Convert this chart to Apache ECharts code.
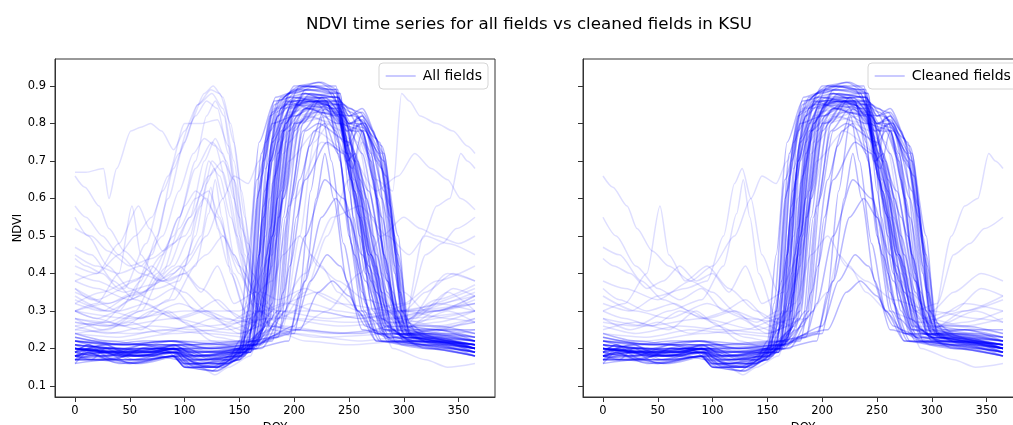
<!DOCTYPE html>
<html>
<head>
<meta charset="utf-8">
<script src="https://cdn.jsdelivr.net/npm/echarts@6/dist/echarts.min.js"></script>
<style>
  html, body { margin: 0; padding: 0; background: #ffffff; }
  #chart { width: 1013px; height: 425px; }
</style>
</head>
<body>
<div id="chart"></div>
<script>
// NDVI profiles per field, stored as [day of year, NDVI] pairs.
const titleText = 'NDVI time series for all fields vs cleaned fields in KSU';
const doyTicks = [0, 50, 100, 150, 200, 250, 300, 350];
const ndviTicks = [0.1, 0.2, 0.3, 0.4, 0.5, 0.6, 0.7, 0.8, 0.9];

// Typical summer crops (kept after cleaning)
const summerCrops = [
  [[0,.19],[12,.21],[30,.18],[60,.18],[90,.2],[105,.17],[130,.16],[150,.2],[158,.3],[168,.62],[180,.83],[195,.88],[215,.9],[238,.88],[248,.72],[260,.5],[272,.3],[285,.22],[320,.21],[365,.19]],
  [[0,.18],[15,.17],[28,.2],[50,.17],[90,.19],[100,.16],[125,.15],[145,.18],[160,.25],[172,.55],[185,.82],[200,.9],[225,.91],[240,.89],[248,.73],[258,.56],[270,.33],[285,.23],[320,.22],[365,.2]],
  [[0,.21],[20,.19],[45,.18],[62,.2],[90,.2],[110,.18],[140,.19],[162,.22],[172,.4],[185,.75],[198,.86],[220,.87],[240,.86],[252,.8],[262,.82],[275,.7],[290,.35],[300,.24],[330,.25],[365,.23]],
  [[0,.17],[25,.17],[60,.17],[90,.18],[100,.15],[128,.15],[150,.17],[168,.22],[178,.45],[190,.78],[205,.86],[230,.85],[248,.78],[262,.8],[280,.68],[292,.42],[300,.25],[320,.22],[365,.2]],
  [[0,.22],[30,.2],[60,.19],[95,.21],[120,.18],[150,.2],[172,.25],[182,.5],[195,.78],[210,.84],[225,.86],[240,.83],[252,.65],[265,.4],[280,.24],[310,.22],[365,.21]],
  [[0,.16],[12,.19],[40,.16],[70,.17],[90,.18],[110,.15],[135,.16],[155,.2],[163,.35],[172,.7],[185,.86],[205,.9],[238,.9],[246,.78],[254,.55],[265,.32],[280,.22],[330,.21],[365,.18]],
  [[0,.24],[30,.22],[65,.21],[90,.22],[120,.2],[160,.21],[180,.28],[190,.55],[200,.78],[215,.84],[240,.8],[265,.78],[280,.6],[295,.3],[305,.24],[340,.24],[365,.23]],
  [[0,.19],[28,.21],[50,.18],[88,.2],[100,.17],[130,.17],[155,.19],[166,.3],[176,.65],[188,.84],[200,.87],[230,.85],[245,.75],[250,.7],[258,.8],[268,.72],[282,.45],[295,.25],[320,.22],[365,.21]],
  [[0,.2],[40,.19],[80,.2],[110,.19],[150,.2],[180,.22],[190,.35],[205,.65],[218,.78],[228,.8],[240,.72],[255,.45],[270,.28],[290,.22],[365,.2]],
  [[0,.18],[50,.17],[100,.18],[150,.19],[195,.22],[205,.35],[215,.62],[226,.82],[234,.7],[245,.48],[258,.3],[275,.22],[365,.19]],
  [[0,.2],[60,.19],[100,.2],[150,.2],[200,.24],[210,.38],[220,.6],[228,.72],[236,.6],[248,.38],[262,.25],[300,.22],[365,.21]],
  [[0,.23],[40,.21],[90,.22],[140,.21],[185,.23],[195,.32],[210,.5],[228,.65],[245,.6],[262,.45],[280,.28],[300,.23],[365,.22]],
  [[0,.18],[30,.18],[62,.21],[90,.19],[115,.17],[150,.18],[170,.24],[180,.5],[192,.8],[210,.88],[240,.87],[250,.82],[262,.83],[278,.75],[292,.5],[302,.26],[320,.23],[365,.2]],
  [[0,.17],[20,.18],[55,.16],[90,.18],[105,.15],[130,.15],[148,.18],[158,.28],[166,.6],[178,.82],[195,.87],[230,.86],[242,.7],[252,.48],[264,.3],[278,.22],[330,.2],[365,.18]],
  [[0,.2],[35,.19],[70,.18],[95,.2],[125,.17],[155,.19],[176,.25],[186,.55],[198,.82],[210,.89],[235,.88],[248,.78],[260,.65],[272,.55],[285,.35],[300,.24],[365,.21]],
  [[0,.19],[25,.18],[60,.19],[90,.2],[110,.17],[140,.17],[160,.2],[168,.35],[178,.7],[190,.84],[215,.86],[240,.85],[252,.83],[265,.8],[282,.62],[296,.35],[305,.24],[340,.22],[365,.2]],
  [[0,.21],[40,.2],[80,.19],[120,.18],[160,.2],[182,.26],[192,.55],[205,.8],[220,.86],[238,.83],[252,.7],[268,.45],[285,.26],[300,.23],[365,.2]],
  [[0,.17],[20,.17],[50,.16],[90,.18],[100,.15],[125,.14],[140,.17],[150,.22],[158,.45],[168,.75],[182,.86],[210,.88],[230,.86],[240,.75],[250,.5],[262,.3],[275,.22],[320,.2],[365,.18]],
  [[0,.18],[12,.2],[40,.18],[75,.18],[92,.19],[115,.16],[145,.18],[165,.22],[175,.45],[188,.8],[205,.9],[238,.89],[248,.72],[260,.62],[275,.45],[290,.25],[310,.21],[365,.19]],
  [[0,.22],[50,.21],[90,.21],[130,.19],[165,.21],[180,.32],[190,.6],[202,.8],[220,.83],[255,.82],[275,.76],[288,.55],[298,.3],[310,.25],[365,.25]],
  [[0,.2],[60,.19],[110,.19],[160,.2],[186,.24],[196,.42],[210,.65],[230,.75],[245,.72],[260,.55],[275,.35],[290,.23],[365,.21]],
  [[0,.21],[50,.2],[100,.2],[160,.21],[195,.24],[210,.38],[225,.55],[238,.6],[250,.55],[265,.38],[282,.25],[365,.22]],
  [[0,.19],[30,.2],[62,.18],[90,.2],[110,.17],[140,.18],[158,.21],[168,.45],[180,.75],[198,.85],[240,.84],[252,.78],[262,.78],[276,.6],[290,.32],[300,.23],[365,.2]],
  [[0,.18],[28,.2],[55,.17],[88,.19],[100,.16],[132,.16],[160,.19],[170,.32],[180,.7],[195,.88],[215,.89],[240,.88],[248,.74],[258,.82],[270,.72],[285,.4],[295,.24],[330,.22],[365,.19]],
  [[0,.2],[40,.19],[75,.2],[100,.18],[130,.18],[165,.2],[174,.35],[185,.72],[200,.86],[235,.87],[250,.8],[262,.81],[280,.72],[295,.45],[305,.26],[330,.26],[365,.24]],
  [[0,.17],[30,.17],[60,.16],[95,.18],[120,.15],[150,.17],[168,.24],[178,.52],[190,.78],[210,.84],[240,.82],[255,.7],[270,.45],[285,.25],[320,.2],[365,.18]],
  [[0,.23],[45,.21],[85,.22],[120,.2],[170,.21],[188,.3],[198,.6],[210,.78],[222,.8],[250,.75],[268,.62],[285,.38],[300,.24],[365,.22]],
  [[0,.18],[12,.19],[30,.17],[62,.19],[90,.2],[102,.16],[130,.15],[152,.19],[163,.38],[174,.75],[188,.87],[210,.9],[238,.89],[247,.7],[253,.68],[262,.78],[272,.65],[285,.38],[298,.23],[340,.21],[365,.19]],
  [[0,.2],[25,.19],[60,.2],[95,.2],[125,.18],[160,.2],[180,.3],[190,.62],[202,.82],[220,.86],[245,.85],[262,.78],[280,.55],[295,.3],[305,.23],[365,.21]],
  [[0,.22],[60,.21],[120,.21],[170,.22],[200,.26],[215,.38],[230,.45],[242,.42],[258,.3],[275,.24],[365,.22]],
  [[0,.2],[50,.19],[100,.21],[160,.22],[205,.25],[222,.35],[235,.38],[250,.34],[265,.26],[290,.22],[365,.21]],
  [[0,.18],[30,.19],[60,.18],[90,.19],[105,.16],[140,.16],[150,.2],[156,.32],[166,.65],[180,.8],[200,.82],[222,.85],[238,.78],[250,.55],[262,.35],[275,.24],[320,.21],[365,.19]],
  [[0,.19],[28,.21],[55,.18],[90,.2],[115,.17],[150,.18],[170,.23],[180,.5],[192,.8],[208,.88],[240,.87],[250,.82],[262,.84],[282,.72],[293,.45],[301,.25],[330,.23],[365,.2]],
  [[0,.21],[40,.2],[80,.2],[120,.19],[165,.2],[186,.28],[196,.58],[208,.8],[225,.87],[240,.82],[252,.65],[268,.4],[282,.25],[310,.22],[365,.2]],
  [[0,.18],[20,.17],[50,.18],[92,.19],[110,.16],[140,.16],[160,.19],[168,.32],[178,.7],[192,.85],[220,.86],[245,.83],[256,.7],[270,.45],[290,.24],[330,.22],[365,.2]],
  [[0,.2],[30,.19],[62,.21],[90,.2],[120,.18],[160,.19],[178,.28],[188,.62],[200,.84],[215,.88],[240,.87],[250,.8],[260,.8],[278,.72],[292,.48],[300,.26],[330,.25],[365,.22]],
  [[0,.17],[14,.2],[35,.17],[62,.2],[85,.19],[98,.16],[128,.14],[148,.17],[160,.28],[170,.66],[182,.85],[200,.89],[222,.91],[242,.88],[248,.7],[256,.72],[266,.6],[280,.35],[292,.22],[340,.2],[365,.19]],
  [[0,.2],[28,.18],[55,.19],[90,.21],[110,.18],[140,.17],[162,.2],[170,.42],[180,.76],[195,.86],[218,.85],[240,.86],[252,.84],[264,.8],[284,.66],[297,.35],[306,.23],[330,.22],[365,.2]],
  [[0,.19],[20,.18],[48,.19],[75,.18],[95,.17],[118,.16],[155,.18],[165,.3],[174,.68],[186,.84],[205,.87],[235,.88],[245,.8],[252,.78],[262,.8],[278,.7],[292,.4],[300,.24],[335,.22],[365,.21]],
  [[0,.16],[30,.17],[60,.17],[90,.18],[100,.15],[130,.14],[152,.18],[160,.35],[170,.72],[183,.87],[205,.89],[230,.89],[242,.84],[250,.62],[260,.4],[272,.25],[300,.21],[365,.18]],
  [[0,.21],[40,.2],[70,.19],[95,.2],[125,.19],[160,.19],[172,.3],[182,.66],[196,.84],[215,.86],[238,.86],[250,.8],[262,.82],[280,.74],[295,.5],[303,.27],[320,.24],[365,.22]],
  [[0,.18],[25,.19],[60,.18],[92,.2],[105,.16],[135,.15],[158,.19],[168,.45],[178,.78],[192,.86],[215,.84],[238,.85],[247,.76],[255,.62],[268,.42],[282,.26],[310,.22],[365,.2]],
  [[0,.2],[35,.2],[70,.19],[90,.21],[110,.18],[150,.19],[175,.26],[185,.6],[196,.82],[212,.87],[238,.87],[250,.84],[260,.83],[272,.78],[288,.58],[298,.3],[308,.23],[365,.21]],
  [[0,.19],[12,.21],[40,.18],[65,.19],[95,.19],[120,.17],[150,.19],[164,.3],[173,.62],[185,.82],[200,.86],[228,.87],[245,.82],[258,.7],[272,.5],[288,.28],[300,.22],[365,.2]],
  [[0,.22],[30,.21],[62,.22],[90,.22],[125,.2],[165,.21],[185,.3],[195,.58],[208,.78],[225,.84],[245,.82],[262,.72],[278,.5],[292,.28],[305,.24],[365,.23]],
  [[0,.17],[28,.19],[50,.16],[88,.18],[102,.15],[128,.15],[150,.17],[163,.26],[172,.58],[184,.83],[200,.88],[220,.9],[242,.88],[249,.74],[258,.78],[270,.7],[283,.44],[296,.24],[330,.21],[365,.19]],
  [[0,.2],[40,.19],[80,.21],[120,.19],[170,.2],[192,.3],[202,.55],[214,.74],[228,.84],[242,.8],[255,.62],[270,.38],[285,.24],[365,.21]],
  [[0,.18],[20,.19],[55,.18],[90,.19],[112,.16],[145,.17],[168,.22],[177,.48],[188,.78],[205,.86],[232,.86],[248,.8],[262,.79],[282,.7],[296,.42],[304,.25],[340,.22],[365,.2]]
];

// Fields with noisier off-season signal (kept after cleaning)
const mixedFields = [
  [[0,.44],[10,.42],[25,.4],[40,.36],[55,.38],[70,.42],[85,.38],[100,.4],[115,.35],[130,.42],[145,.32],[165,.35],[178,.6],[192,.82],[220,.86],[245,.8],[262,.62],[282,.3],[300,.25],[330,.3],[365,.33]],
  [[0,.55],[12,.5],[30,.42],[50,.36],[70,.33],[90,.36],[110,.3],[130,.33],[150,.28],[170,.3],[185,.6],[200,.82],[235,.84],[255,.7],[275,.4],[295,.26],[330,.24],[365,.22]],
  [[0,.66],[9,.63],[22,.58],[31,.52],[45,.46],[60,.42],[80,.38],[100,.35],[120,.3],[140,.28],[160,.25],[175,.4],[190,.78],[210,.86],[240,.85],[258,.75],[280,.4],[300,.25],[365,.23]],
  [[0,.3],[20,.32],[40,.4],[52,.58],[60,.45],[75,.38],[95,.42],[115,.36],[140,.3],[165,.26],[180,.42],[195,.75],[215,.82],[245,.78],[265,.5],[285,.26],[365,.22]],
  [[0,.32],[25,.3],[50,.34],[75,.36],[95,.38],[110,.5],[120,.64],[127,.68],[135,.6],[145,.45],[160,.35],[180,.45],[195,.7],[220,.78],[250,.72],[272,.4],[290,.25],[330,.27],[365,.3]],
  [[0,.27],[30,.26],[60,.3],[90,.33],[110,.42],[122,.56],[128,.65],[134,.55],[142,.4],[158,.28],[172,.26],[185,.5],[198,.8],[230,.85],[250,.76],[268,.45],[285,.27],[365,.24]],
  [[0,.38],[20,.36],[50,.33],[80,.38],[100,.42],[120,.5],[135,.6],[145,.66],[158,.64],[168,.7],[182,.84],[210,.88],[240,.85],[255,.68],[275,.35],[295,.24],[365,.22]],
  [[0,.24],[40,.23],[80,.25],[120,.24],[160,.23],[178,.4],[192,.75],[210,.84],[240,.83],[262,.6],[285,.3],[300,.26],[318,.5],[330,.58],[342,.6],[352,.72],[358,.7],[365,.68]],
  [[0,.28],[40,.26],[90,.28],[140,.25],[175,.28],[190,.6],[208,.82],[240,.8],[262,.55],[285,.3],[305,.32],[320,.45],[335,.48],[348,.52],[365,.55]],
  [[0,.34],[30,.3],[60,.28],[95,.32],[130,.28],[165,.27],[185,.55],[200,.8],[230,.83],[255,.65],[280,.35],[300,.3],[320,.35],[345,.4],[365,.38]],
  [[0,.47],[15,.45],[35,.38],[55,.33],[80,.3],[100,.27],[125,.22],[150,.2],[172,.3],[185,.7],[200,.85],[235,.86],[252,.72],[272,.38],[292,.24],[365,.21]],
  [[0,.2],[30,.19],[60,.18],[95,.19],[115,.15],[128,.13],[140,.15],[160,.18],[175,.35],[188,.75],[205,.85],[240,.84],[255,.6],[272,.35],[290,.2],[320,.17],[340,.15],[365,.16]],
  [[0,.26],[30,.24],[70,.26],[110,.25],[150,.24],[185,.28],[205,.35],[215,.45],[225,.42],[240,.35],[260,.3],[290,.27],[330,.3],[365,.34]],
  [[0,.22],[40,.22],[90,.24],[130,.25],[160,.28],[175,.32],[190,.45],[205,.5],[222,.42],[240,.38],[265,.33],[300,.3],[340,.28],[365,.27]],
  [[0,.3],[20,.28],[45,.26],[70,.3],[95,.28],[120,.3],[140,.26],[160,.24],[176,.38],[190,.72],[210,.84],[240,.82],[258,.62],[278,.34],[298,.27],[330,.32],[365,.3]],
  [[0,.25],[30,.27],[60,.25],[85,.3],[105,.26],[125,.28],[150,.24],[170,.26],[186,.55],[200,.8],[235,.82],[252,.72],[270,.45],[290,.28],[320,.3],[345,.36],[365,.34]],
  [[0,.36],[15,.33],[40,.3],[65,.32],[90,.28],[115,.3],[140,.27],[160,.3],[174,.5],[188,.8],[215,.86],[244,.84],[256,.7],[274,.42],[295,.28],[330,.26],[365,.28]],
  [[0,.28],[25,.25],[50,.27],[80,.24],[105,.26],[130,.23],[150,.22],[168,.3],[180,.64],[195,.83],[230,.85],[250,.78],[265,.55],[285,.3],[305,.26],[340,.3],[365,.27]]
];

// Fields dropped by the cleaning step (winter crops, perennial cover, odd profiles)
const removedFields = [
  [[0,.3],[20,.28],[40,.3],[60,.38],[75,.5],[90,.68],[105,.8],[118,.88],[126,.9],[135,.87],[145,.75],[155,.55],[165,.35],[180,.25],[210,.22],[250,.21],[300,.22],[365,.25]],
  [[0,.26],[25,.27],[50,.33],[70,.45],[85,.6],[100,.75],[112,.85],[124,.89],[132,.88],[142,.8],[152,.62],[162,.4],[175,.27],[200,.24],[260,.22],[320,.24],[365,.28]],
  [[0,.35],[20,.33],[45,.36],[65,.48],[80,.62],[95,.72],[110,.82],[120,.86],[130,.84],[140,.72],[150,.5],[162,.32],[180,.26],[230,.24],[290,.25],[330,.33],[365,.37]],
  [[0,.42],[20,.4],[40,.45],[55,.5],[70,.55],[85,.66],[100,.8],[115,.8],[130,.81],[140,.74],[152,.52],[165,.35],[185,.3],[220,.3],[260,.28],[300,.3],[365,.32]],
  [[0,.28],[30,.27],[55,.3],[75,.4],[95,.55],[110,.68],[125,.75],[135,.72],[145,.6],[155,.42],[168,.3],[190,.28],[240,.26],[300,.27],[365,.3]],
  [[0,.33],[30,.3],[60,.34],[85,.42],[105,.55],[122,.66],[135,.7],[145,.65],[158,.48],[170,.35],[185,.33],[210,.36],[240,.32],[290,.3],[365,.34]],
  [[0,.67],[10,.67],[26,.68],[31,.6],[38,.68],[51,.78],[60,.79],[69,.8],[79,.78],[90,.73],[100,.78],[112,.85],[125,.88],[135,.84],[145,.7],[155,.5],[165,.32],[180,.25],[220,.23],[300,.24],[365,.27]],
  [[0,.3],[30,.32],[60,.35],[90,.4],[105,.45],[115,.5],[124,.63],[130,.52],[140,.42],[155,.3],[170,.24],[190,.26],[205,.5],[218,.75],[232,.8],[250,.7],[268,.42],[285,.26],[365,.24]],
  [[0,.38],[20,.4],[40,.48],[58,.58],[68,.52],[80,.46],[100,.5],[118,.6],[130,.55],[145,.45],[160,.35],[175,.3],[195,.32],[220,.3],[260,.28],[310,.3],[365,.35]],
  [[0,.22],[40,.21],[90,.22],[150,.22],[175,.3],[190,.6],[205,.8],[230,.85],[255,.78],[275,.65],[290,.62],[298,.88],[305,.86],[315,.82],[330,.8],[345,.78],[358,.74],[365,.72]],
  [[0,.3],[50,.28],[100,.3],[150,.3],[180,.38],[200,.6],[225,.75],[250,.72],[275,.62],[295,.66],[310,.72],[325,.68],[340,.65],[352,.6],[365,.57]],
  [[0,.25],[50,.24],[120,.26],[180,.28],[210,.4],[235,.55],[260,.58],[285,.5],[305,.45],[320,.5],[340,.48],[365,.45]],
  [[0,.58],[10,.55],[25,.5],[40,.45],[60,.4],[80,.38],[100,.4],[120,.45],[135,.5],[150,.42],[165,.35],[180,.5],[195,.78],[225,.85],[250,.75],[272,.42],[292,.28],[330,.3],[365,.34]],
  [[0,.52],[15,.5],[30,.46],[50,.42],[70,.44],[90,.48],[105,.55],[118,.7],[128,.76],[138,.7],[150,.55],[162,.4],[178,.3],[200,.28],[250,.27],[300,.28],[365,.3]],
  [[0,.4],[20,.38],[45,.35],[70,.37],[90,.42],[105,.5],[115,.62],[122,.7],[132,.66],[142,.55],[155,.4],[170,.3],[190,.32],[220,.35],[260,.3],[300,.32],[330,.38],[365,.42]],
  [[0,.2],[50,.2],[100,.21],[150,.22],[200,.25],[230,.3],[260,.4],[280,.5],[300,.55],[315,.52],[330,.5],[350,.48],[365,.5]],
  [[0,.22],[40,.21],[90,.22],[140,.21],[180,.24],[210,.35],[230,.5],[250,.65],[262,.75],[272,.72],[285,.55],[300,.35],[320,.3],[365,.32]],
  [[0,.24],[30,.25],[60,.3],[80,.4],[95,.52],[110,.6],[122,.62],[132,.55],[145,.4],[160,.3],[175,.26],[200,.25],[250,.24],[310,.25],[365,.27]],
  [[0,.32],[25,.35],[50,.38],[70,.4],[90,.5],[100,.58],[110,.62],[120,.6],[135,.5],[150,.4],[165,.3],[185,.28],[215,.32],[240,.3],[280,.28],[330,.3],[365,.32]],
  [[0,.45],[20,.42],[40,.4],[60,.42],[80,.5],[95,.62],[108,.72],[118,.76],[128,.74],[140,.62],[152,.45],[165,.32],[185,.3],[230,.28],[300,.3],[365,.36]],
  [[0,.36],[30,.32],[55,.35],[80,.45],[95,.55],[110,.7],[120,.82],[128,.86],[136,.82],[145,.65],[155,.45],[168,.3],[190,.26],[240,.24],[300,.26],[340,.4],[365,.38]],
  [[0,.27],[30,.26],[60,.28],[85,.33],[100,.42],[115,.58],[125,.7],[135,.67],[148,.5],[160,.32],[178,.26],[200,.25],[260,.24],[310,.28],[340,.35],[365,.3]]
];

const FONT = 'DejaVu Sans';
const BLUE = '#0000ff';
const AXIS_COLOR = '#333333';

function lineSeries(profile, name, panel, opacity) {
  return {
    type: 'line',
    name: name,
    xAxisIndex: panel,
    yAxisIndex: panel,
    data: profile,
    color: BLUE,
    symbol: 'none',
    showSymbol: false,
    smooth: 0.25,
    smoothMonotone: 'x',
    silent: true,
    animation: false,
    itemStyle: { color: BLUE },
    lineStyle: { color: BLUE, width: 1.5, opacity: opacity }
  };
}

const series = [];
// left panel: every field
summerCrops.forEach(p => series.push(lineSeries(p, 'All fields', 0, 0.28)));
mixedFields.forEach(p => series.push(lineSeries(p, 'All fields', 0, 0.13)));
removedFields.forEach(p => series.push(lineSeries(p, 'All fields', 0, 0.12)));
// right panel: fields kept after cleaning
summerCrops.forEach(p => series.push(lineSeries(p, 'Cleaned fields', 1, 0.28)));
mixedFields.forEach(p => series.push(lineSeries(p, 'Cleaned fields', 1, 0.13)));

function xAxisFor(panel) {
  return {
    type: 'value', gridIndex: panel, min: -18.25, max: 383.25,
    name: 'DOY', nameLocation: 'middle', nameGap: 20,
    nameTextStyle: { fontFamily: FONT, fontSize: 11.5, color: '#000', verticalAlign: 'top' },
    splitLine: { show: false },
    axisLine: { show: true, onZero: false, lineStyle: { color: AXIS_COLOR, width: 1 } },
    axisTick: { show: true, length: 5, customValues: doyTicks, lineStyle: { color: AXIS_COLOR } },
    axisLabel: { customValues: doyTicks, margin: 8, fontFamily: FONT, fontSize: 11.5, color: '#000' }
  };
}
function yAxisFor(panel, showLabels) {
  return {
    type: 'value', gridIndex: panel, min: 0.0707, max: 0.972,
    name: showLabels ? 'NDVI' : '', nameLocation: 'middle', nameGap: 26, nameRotate: 90,
    nameTextStyle: { fontFamily: FONT, fontSize: 11.5, color: '#000' },
    splitLine: { show: false },
    axisLine: { show: true, onZero: false, lineStyle: { color: AXIS_COLOR, width: 1 } },
    axisTick: { show: true, length: 5, customValues: ndviTicks, lineStyle: { color: AXIS_COLOR } },
    axisLabel: { show: showLabels, customValues: ndviTicks, margin: 9, fontFamily: FONT, fontSize: 11.5, color: '#000',
      formatter: v => v.toFixed(1) }
  };
}

function legendFor(name, pos) {
  return Object.assign({
    data: [name],
    orient: 'vertical',
    backgroundColor: 'rgba(255,255,255,0.85)',
    borderColor: '#d6d6d6', borderWidth: 1, borderRadius: 4,
    padding: [6, 6, 6, 6],
    itemWidth: 30, itemHeight: 8, itemGap: 4,
    selectedMode: false,
    itemStyle: { opacity: 0 },
    lineStyle: { color: 'rgba(0,0,255,0.3)', width: 1.4, opacity: 1 },
    textStyle: { fontFamily: FONT, fontSize: 14, color: '#000', padding: [0, 0, 0, 2] }
  }, pos);
}

const chart = echarts.init(document.getElementById('chart'), null, { renderer: 'canvas' });
chart.setOption({
  animation: false,
  backgroundColor: '#ffffff',
  title: {
    text: titleText, left: 524, top: 11, textAlign: 'center',
    textStyle: { fontFamily: FONT, fontSize: 16.67, fontWeight: 'normal', color: '#000' }
  },
  grid: [
    { left: 55, top: 59, width: 440, height: 338, show: true, borderColor: AXIS_COLOR, borderWidth: 1,
      backgroundColor: 'transparent', containLabel: false, outerBoundsMode: 'none' },
    { left: 583, top: 59, width: 440, height: 338, show: true, borderColor: AXIS_COLOR, borderWidth: 1,
      backgroundColor: 'transparent', containLabel: false, outerBoundsMode: 'none' }
  ],
  xAxis: [xAxisFor(0), xAxisFor(1)],
  yAxis: [yAxisFor(0, true), yAxisFor(1, false)],
  legend: [
    legendFor('All fields', { right: 525, top: 63 }),
    legendFor('Cleaned fields', { left: 868, top: 63 })
  ],
  series: series
});
</script>
</body>
</html>
